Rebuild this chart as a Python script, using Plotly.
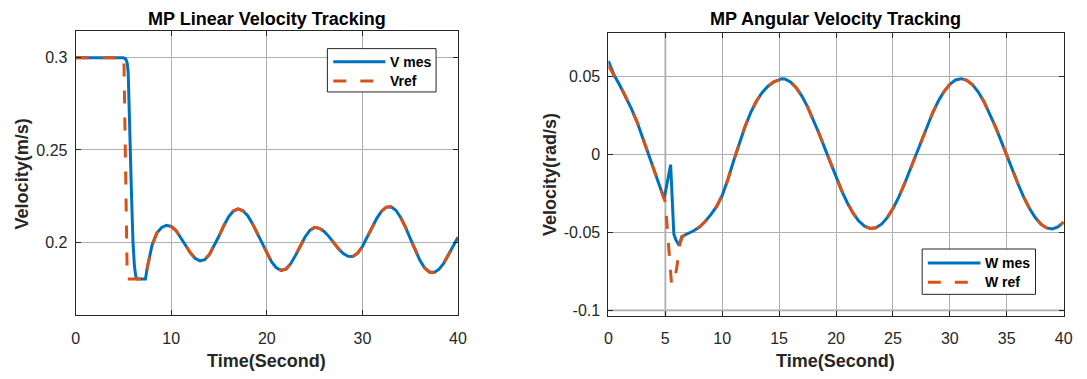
import plotly.graph_objects as go

# ---------------- Linear velocity (left panel) ----------------
# Measured speed: start-up segment, then the shared tracking segment
t_v_mes_head = [0, 1, 2, 3, 4, 5.0, 5.25, 5.4, 5.5, 5.55, 5.69, 5.85, 6.0, 6.15, 6.3, 6.45, 7.0]
v_mes_head = [0.3, 0.3, 0.3, 0.3, 0.3, 0.3, 0.2993, 0.297, 0.292, 0.28, 0.25, 0.225, 0.2, 0.187, 0.1812, 0.18, 0.18]

# Reference speed: step down to the lower limit
t_v_ref_head = [0, 1, 2, 3, 4, 5.05, 5.4, 6.0, 7.0]
v_ref_head = [0.3, 0.3, 0.3, 0.3, 0.3, 0.3, 0.18, 0.18, 0.18]

# Part where both speed curves coincide
t_v_tail = [7.3, 7.5, 8.0, 8.5, 9.0, 9.5, 10.0, 10.5, 11.0, 11.5, 12.0, 12.5, 13.0, 13.5,
            14.0, 14.5, 15.0, 15.5, 16.0, 16.5, 17.0, 17.5, 18.0, 18.5, 19.0, 19.5, 20.0,
            20.5, 21.0, 21.5, 22.0, 22.5, 23.0, 23.5, 24.0, 24.5, 25.0, 25.5, 26.0, 26.5,
            27.0, 27.5, 28.0, 28.5, 29.0, 29.5, 30.0, 30.5, 31.0, 31.5, 32.0, 32.5, 33.0,
            33.5, 34.0, 34.5, 35.0, 35.5, 36.0, 36.5, 37.0, 37.5, 38.0, 38.5, 39.0, 39.5, 40.0]
v_tail = [0.18, 0.1862, 0.1985, 0.2050, 0.2080, 0.2091, 0.2085, 0.2063, 0.2026, 0.1983, 0.1942,
          0.1912, 0.1898, 0.1905, 0.1933, 0.1979, 0.2033, 0.2089, 0.2137, 0.2169, 0.2180,
          0.2170, 0.2143, 0.2100, 0.2047, 0.1991, 0.1937, 0.1892, 0.1861, 0.1847, 0.1854,
          0.1883, 0.1928, 0.1979, 0.2028, 0.2064, 0.2080, 0.2075, 0.2058, 0.2030, 0.1997,
          0.1964, 0.1938, 0.1923, 0.1922, 0.1940, 0.1976, 0.2025, 0.2078, 0.2129, 0.2168,
          0.2190, 0.2192, 0.2173, 0.2134, 0.2082, 0.2020, 0.1958, 0.1903, 0.1861, 0.1838,
          0.1835, 0.1852, 0.1885, 0.1929, 0.1979, 0.2027]

# ---------------- Angular velocity (right panel) ----------------
t_w_mes_head = [0, 0.5, 1.0, 1.5, 2.0, 2.5, 3.0, 3.5, 4.0, 4.5, 4.9, 5.47, 5.66, 5.75, 5.93,
                6.22, 6.45]
w_mes_head = [0.060, 0.0510, 0.0445, 0.0375, 0.0298, 0.0213, 0.0110, 0.0010, -0.0093, -0.0200,
              -0.0284, -0.0065, -0.0452, -0.0510, -0.0548, -0.0584, -0.0526]

t_w_ref_head = [0, 0.5, 1.0, 1.5, 2.0, 2.5, 3.0, 3.5, 4.0, 4.5, 5.0, 5.55, 5.8, 6.0, 6.15,
                6.3, 6.5]
w_ref_head = [0.057, 0.0510, 0.0445, 0.0375, 0.0298, 0.0213, 0.0110, 0.0010, -0.0093, -0.0200,
              -0.0305, -0.0834, -0.0800, -0.0730, -0.0650, -0.0570, -0.0528]

t_w_tail = [6.75, 7.0, 7.5, 8.0, 8.5, 9.0, 9.5, 10.0, 10.5, 11.0, 11.5, 12.0, 12.5, 13.0, 13.5,
            14.0, 14.5, 15.0, 15.25, 15.5, 16.0, 16.5, 17.0, 17.5, 18.0, 18.5, 19.0, 19.5, 20.0,
            20.5, 21.0, 21.5, 22.0, 22.5, 23.0, 23.5, 24.0, 24.5, 25.0, 25.5, 26.0, 26.5, 27.0,
            27.5, 28.0, 28.5, 29.0, 29.5, 30.0, 30.5, 31.0, 31.5, 32.0, 32.5, 33.0, 33.5, 34.0,
            34.5, 35.0, 35.5, 36.0, 36.5, 37.0, 37.5, 38.0, 38.5, 39.0, 39.5, 40.0]
w_tail = [-0.0515, -0.0503, -0.0489, -0.0465, -0.0430, -0.0386, -0.0335, -0.0262, -0.0160,
          -0.0041, 0.0074, 0.0179, 0.0269, 0.0342, 0.0397, 0.0437, 0.0465, 0.0483, 0.0487,
          0.0485, 0.0466, 0.0429, 0.0375, 0.0306, 0.0226, 0.0137, 0.0043, -0.0052, -0.0146,
          -0.0233, -0.0311, -0.0376, -0.0427, -0.0460, -0.0474, -0.0470, -0.0447, -0.0405,
          -0.0347, -0.0275, -0.0191, -0.0099, -0.0004, 0.0092, 0.0185, 0.0270, 0.0345, 0.0406,
          0.0451, 0.0479, 0.0487, 0.0476, 0.0447, 0.0401, 0.0339, 0.0264, 0.0179, 0.0088,
          -0.0007, -0.0101, -0.0191, -0.0275, -0.0346, -0.0404, -0.0447, -0.0471, -0.0478,
          -0.0465, -0.0434]

# Axis ticks and labels
x_ticks_lin = [0, 10, 20, 30, 40]
y_ticks_lin = [0.2, 0.25, 0.3]
y_text_lin = ["0.2", "0.25", "0.3"]
x_ticks_ang = [0, 5, 10, 15, 20, 25, 30, 35, 40]
y_ticks_ang = [-0.1, -0.05, 0, 0.05]
y_text_ang = ["-0.1", "-0.05", "0", "0.05"]

BLUE = "#0072BD"
RED = "#D95319"
AXIS = "#262626"
GRID = "#b0b0b0"
GRID_SOFT = "#d2d2d2"
FONT = "Liberation Sans, Arial, sans-serif"
DASH = "13px,14px"
W, H = 1087, 379

fig = go.Figure()

fig.add_trace(go.Scatter(x=t_v_mes_head + t_v_tail, y=v_mes_head + v_tail, mode="lines",
                         line=dict(color=BLUE, width=3), xaxis="x", yaxis="y", name="V mes"))
fig.add_trace(go.Scatter(x=t_v_ref_head + t_v_tail, y=v_ref_head + v_tail, mode="lines",
                         line=dict(color=RED, width=3, dash=DASH), xaxis="x", yaxis="y", name="Vref"))
fig.add_trace(go.Scatter(x=t_w_mes_head + t_w_tail, y=w_mes_head + w_tail, mode="lines",
                         line=dict(color=BLUE, width=3), xaxis="x2", yaxis="y2", name="W mes"))
fig.add_trace(go.Scatter(x=t_w_ref_head + t_w_tail, y=w_ref_head + w_tail, mode="lines",
                         line=dict(color=RED, width=3, dash=DASH), xaxis="x2", yaxis="y2", name="W ref"))

# Plot boxes in pixels (left, right, top, bottom)
box_lin = (72.5, 459.5, 31.0, 318.0)
box_ang = (611.7, 1072.5, 33.3, 318.3)


def px(x):
    return x / W


def py(y):
    return 1 - y / H


common_axis = dict(showline=True, linecolor=AXIS, linewidth=1, mirror="ticks",
                   ticks="inside", ticklen=5, tickcolor=AXIS, showgrid=True,
                   gridcolor=GRID, gridwidth=1, zeroline=False,
                   tickfont=dict(family=FONT, size=16, color=AXIS))

fig.update_layout(
    width=W, height=H,
    margin=dict(l=0, r=0, t=0, b=0),
    paper_bgcolor="white", plot_bgcolor="white",
    showlegend=False,
    xaxis=dict(domain=[px(box_lin[0]), px(box_lin[1])], range=[0, 40],
               tickvals=x_ticks_lin, ticklabelstandoff=8, anchor="y", **common_axis),
    yaxis=dict(domain=[py(box_lin[3]), py(box_lin[2])], range=[0.1602, 0.3147],
               tickvals=y_ticks_lin, ticktext=y_text_lin, ticklabelstandoff=4,
               anchor="x", **common_axis),
    xaxis2=dict(domain=[px(box_ang[0]), px(box_ang[1])], range=[0, 40],
                tickvals=x_ticks_ang, ticklabelstandoff=8, anchor="y2", **common_axis),
    yaxis2=dict(domain=[py(box_ang[3]), py(box_ang[2])], range=[-0.1035, 0.078],
                tickvals=y_ticks_ang, ticktext=y_text_ang, ticklabelstandoff=4,
                anchor="x2", **common_axis),
)

annotations = []


def text(x, y, s, size, bold=True, angle=0, xanchor="center", color="#000000"):
    annotations.append(dict(
        x=px(x), y=py(y), xref="paper", yref="paper", text=f"<b>{s}</b>" if bold else s,
        showarrow=False, textangle=angle, xanchor=xanchor, yanchor="middle",
        font=dict(family=FONT, size=size, color=color)))


# Titles and axis labels
text(266, 19, "MP Linear Velocity Tracking", 18)
text(842, 19, "MP Angular Velocity Tracking", 18)
text(266, 364, "Time(Second)", 18, color=AXIS)
text(842, 364, "Time(Second)", 18, color=AXIS)
text(18, 175, "Velocity(m/s)", 18, angle=-90, color=AXIS)
text(552, 176, "Velocity(rad/s)", 18, angle=-90, color=AXIS)

shapes = []

# Softer, wider grid lines at t = 5 s and -0.1 rad/s on the angular panel
shapes.append(dict(type="line", xref="x2", yref="y2 domain", x0=5, x1=5, y0=0, y1=1,
                   line=dict(color=GRID_SOFT, width=2.5), layer="below"))
shapes.append(dict(type="line", xref="x2 domain", yref="y2", x0=0, x1=1, y0=-0.1, y1=-0.1,
                   line=dict(color=GRID_SOFT, width=2.5), layer="below"))


def legend(x0, x1, y0, y1, line_x0, line_x1, text_x, rows):
    shapes.append(dict(type="rect", xref="paper", yref="paper",
                       x0=px(x0), x1=px(x1), y0=py(y1), y1=py(y0),
                       line=dict(color=AXIS, width=1), fillcolor="white", layer="above"))
    for (label, color, dash, ry) in rows:
        shapes.append(dict(type="line", xref="paper", yref="paper",
                           x0=px(line_x0), x1=px(line_x1), y0=py(ry), y1=py(ry),
                           line=dict(color=color, width=3, dash=dash), layer="above"))
        text(text_x, ry, label, 14, xanchor="left")


legend(327.3, 437.3, 49.0, 92.7, 333.3, 386.0, 388.5,
       [("V mes", BLUE, "solid", 62.3), ("Vref", RED, DASH, 81.7)])
legend(929.3, 1044.0, 251.0, 296.7, 935.0, 988.3, 990.5,
       [("W mes", BLUE, "solid", 265.0), ("W ref", RED, DASH, 284.5)])

fig.update_layout(annotations=annotations, shapes=shapes)

fig.write_html("out.html")
